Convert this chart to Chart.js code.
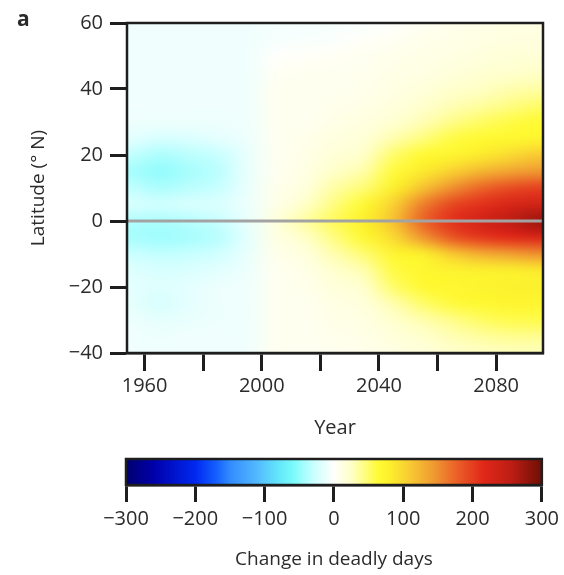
<!DOCTYPE html>
<html>
<head>
<meta charset="utf-8">
<script src="https://cdn.jsdelivr.net/npm/chart.js@4/dist/chart.umd.min.js"></script>
<style>
  html, body { margin: 0; padding: 0; background: #fff; }
  #wrap { position: relative; width: 564px; height: 575px; overflow: hidden; }
  #main { position: absolute; left: 0; top: 0; }
  #cbar { position: absolute; left: 0; top: 445px; }
  #panel { position: absolute; left: 17px; top: 4px; font: bold 21px "Open Sans", sans-serif; color: #2b2b2b; }
</style>
</head>
<body>
<div id="wrap">
  <canvas id="main" width="564" height="445"></canvas>
  <canvas id="cbar" width="564" height="130"></canvas>
  <div id="panel">a</div>
</div>
<script>
// ---------- data ----------
const years = [1955, 1965, 1975, 1985, 1995, 2005, 2015, 2025, 2035, 2045, 2055, 2065, 2075, 2085, 2095];
const lats  = [-40, -35, -30, -25, -20, -15, -10, -5, 0, 5, 10, 15, 20, 25, 30, 35, 40, 45, 50, 55, 60];

// change in deadly days, one array per decade column, latitude -40 ... 60
const col1955 = [-8, -8, -10, -14, -15, -18, -28, -42, -38, -22, -32, -42, -32, -16, -10, -8, -8, -8, -8, -8, -8];
const col1965 = [-8, -10, -14, -22, -18, -22, -32, -45, -40, -25, -40, -50, -40, -22, -10, -8, -8, -8, -8, -8, -8];
const col1975 = [-8, -8, -12, -15, -15, -20, -30, -42, -36, -22, -35, -42, -35, -20, -10, -8, -8, -8, -8, -8, -8];
const col1985 = [-8, -8, -10, -10, -10, -16, -25, -36, -30, -20, -30, -35, -30, -15, -10, -8, -8, -8, -8, -8, -8];
const col1995 = [-8, -8, -8, -8, -8, -10, -12, -15, -12, -10, -12, -12, -12, -10, -8, -8, -8, -8, -8, -8, -8];
const col2005 = [6, 6, 6, 6, 6, 6, 8, 12, 15, 10, 8, 6, 6, 6, 6, 6, 6, 4, 0, -5, -6];
const col2015 = [6, 6, 6, 6, 8, 10, 15, 25, 35, 25, 15, 12, 10, 8, 6, 6, 6, 6, 2, -4, -6];
const col2025 = [6, 8, 10, 12, 16, 22, 32, 45, 55, 45, 35, 25, 18, 14, 10, 8, 6, 6, 4, -2, -5];
const col2035 = [8, 10, 12, 16, 22, 32, 48, 68, 80, 68, 48, 34, 24, 18, 14, 10, 8, 7, 6, 2, -4];
const col2045 = [12, 16, 22, 32, 50, 60, 72, 98, 115, 105, 80, 62, 50, 32, 20, 15, 12, 10, 8, 5, 0];
const col2055 = [16, 22, 32, 50, 66, 70, 80, 145, 175, 160, 115, 85, 66, 45, 30, 22, 16, 12, 10, 8, 5];
const col2065 = [22, 30, 42, 62, 70, 74, 110, 185, 210, 195, 150, 105, 72, 60, 42, 30, 22, 16, 12, 10, 8];
const col2075 = [26, 36, 52, 68, 74, 78, 130, 205, 235, 210, 175, 125, 85, 66, 52, 36, 26, 20, 15, 12, 10];
const col2085 = [28, 40, 58, 72, 78, 80, 140, 215, 255, 228, 192, 138, 98, 70, 60, 44, 32, 22, 18, 14, 12];
const col2095 = [28, 40, 58, 72, 78, 85, 150, 225, 275, 235, 200, 145, 110, 72, 65, 50, 35, 25, 18, 14, 12];
const columns = [col1955, col1965, col1975, col1985, col1995, col2005, col2015, col2025, col2035,
                 col2045, col2055, col2065, col2075, col2085, col2095];

const xTicks = [1960, 1980, 2000, 2020, 2040, 2060, 2080];
const xLabels = [1960, 2000, 2040, 2080];
const yTicks = [-40, -20, 0, 20, 40, 60];
const zeroLineYears = [1954, 2096];
const cbTicks = [-300, -200, -100, 0, 100, 200, 300];

// colormap stops: value -> rgb
const cmapValues = [-300, -260, -200, -170, -150, -115, -80, -60, -30, 0, 25, 65, 80, 100, 140, 175, 215, 255, 300];
const cmapColors = [
  [0, 0, 110], [0, 0, 170], [0, 40, 240], [20, 95, 255], [50, 140, 255], [80, 180, 255],
  [100, 230, 250], [120, 250, 250], [200, 255, 255], [255, 255, 252], [255, 255, 200],
  [255, 250, 50], [252, 240, 45], [250, 215, 50], [240, 160, 50], [235, 100, 40],
  [225, 40, 25], [190, 30, 20], [110, 15, 5]
];

// ---------- helpers ----------
function cmap(v) {
  if (v <= cmapValues[0]) return cmapColors[0];
  const n = cmapValues.length;
  if (v >= cmapValues[n - 1]) return cmapColors[n - 1];
  for (let i = 0; i < n - 1; i++) {
    const a = cmapValues[i], b = cmapValues[i + 1];
    if (v >= a && v <= b) {
      const t = (v - a) / (b - a);
      const c0 = cmapColors[i], c1 = cmapColors[i + 1];
      return [0, 1, 2].map(k => Math.round(c0[k] + (c1[k] - c0[k]) * t));
    }
  }
  return cmapColors[n - 1];
}
const fmt = v => (v < 0 ? '\u2212' + Math.abs(v) : String(v));
const FONT = '"Open Sans", "Noto Sans", sans-serif';
const TXT = '#2b2b2b';
const AX = '#1e1e1e';

// low-resolution image of the grid (one pixel per cell)
const nx = years.length, ny = lats.length;
const off = document.createElement('canvas');
off.width = nx; off.height = ny;
(function () {
  const octx = off.getContext('2d');
  const img = octx.createImageData(nx, ny);
  for (let i = 0; i < nx; i++) {
    for (let j = 0; j < ny; j++) {
      const c = cmap(columns[i][j]);
      const row = ny - 1 - j;
      const p = (row * nx + i) * 4;
      img.data[p] = c[0]; img.data[p + 1] = c[1]; img.data[p + 2] = c[2]; img.data[p + 3] = 255;
    }
  }
  octx.putImageData(img, 0, 0);
})();

const heatmapPlugin = {
  id: 'heatmap',
  beforeDatasetsDraw(chart) {
    const { ctx, chartArea: ca } = chart;
    const xs = chart.scales.x, ys = chart.scales.y;
    const dY = years[1] - years[0], dL = lats[1] - lats[0];
    const x0 = xs.getPixelForValue(years[0] - dY / 2);
    const x1 = xs.getPixelForValue(years[nx - 1] + dY / 2);
    const yT = ys.getPixelForValue(lats[ny - 1] + dL / 2);
    const yB = ys.getPixelForValue(lats[0] - dL / 2);
    ctx.save();
    ctx.beginPath();
    ctx.rect(ca.left, ca.top, ca.right - ca.left, ca.bottom - ca.top);
    ctx.clip();
    ctx.imageSmoothingEnabled = true;
    ctx.imageSmoothingQuality = 'high';
    ctx.drawImage(off, x0, yT, x1 - x0, yB - yT);
    ctx.restore();
  }
};

const framePlugin = {
  id: 'frame',
  afterDatasetsDraw(chart) {
    const { ctx, chartArea: ca } = chart;
    ctx.save();
    ctx.strokeStyle = AX;
    ctx.lineWidth = 2.5;
    ctx.strokeRect(ca.left, ca.top, ca.right - ca.left, ca.bottom - ca.top);
    ctx.restore();
  }
};

// ---------- main chart ----------
new Chart(document.getElementById('main'), {
  type: 'scatter',
  data: {
    datasets: [{
      type: 'line',
      data: zeroLineYears.map(x => ({ x: x, y: 0 })),
      borderColor: '#a3a3a3',
      borderWidth: 3,
      pointRadius: 0,
      fill: false
    }]
  },
  options: {
    responsive: false,
    animation: false,
    devicePixelRatio: 1,
    layout: { padding: { top: 23, right: 21, left: 0, bottom: 0 } },
    plugins: { legend: { display: false }, tooltip: { enabled: false } },
    scales: {
      x: {
        type: 'linear', min: 1954, max: 2096, position: 'bottom',
        afterBuildTicks: s => { s.ticks = xTicks.map(v => ({ value: v })); },
        afterFit: s => { s.height = 92; },
        ticks: {
          autoSkip: false, maxRotation: 0, padding: 3, color: TXT,
          font: { family: FONT, size: 20 },
          callback: v => (xLabels.includes(v) ? String(v) : '')
        },
        grid: { display: true, drawOnChartArea: false, drawTicks: true, tickLength: 18, tickWidth: 3, tickColor: AX },
        border: { display: true, color: AX, width: 2.5 },
        title: { display: true, text: 'Year', color: TXT, font: { family: FONT, size: 20 }, padding: { top: 0, bottom: 5 } }
      },
      y: {
        type: 'linear', min: -40, max: 60, position: 'left',
        afterBuildTicks: s => { s.ticks = yTicks.map(v => ({ value: v })); },
        afterFit: s => { s.width = 127; },
        ticks: { padding: 7, color: TXT, font: { family: FONT, size: 20 }, callback: v => fmt(v) },
        grid: { display: true, drawOnChartArea: false, drawTicks: true, tickLength: 17, tickWidth: 3, tickColor: AX },
        border: { display: true, color: AX, width: 2.5 },
        title: { display: true, text: 'Latitude (\u00b0 N)', color: TXT, font: { family: FONT, size: 19 }, padding: { top: 27, bottom: 0 } }
      }
    }
  },
  plugins: [heatmapPlugin, framePlugin]
});

// ---------- colour bar ----------
const colorbarPlugin = {
  id: 'colorbar',
  beforeDatasetsDraw(chart) {
    const { ctx, chartArea: ca } = chart;
    const xs = chart.scales.x;
    const gx0 = xs.getPixelForValue(cmapValues[0]);
    const gx1 = xs.getPixelForValue(cmapValues[cmapValues.length - 1]);
    const g = ctx.createLinearGradient(gx0, 0, gx1, 0);
    cmapValues.forEach((v, i) => {
      const c = cmapColors[i];
      g.addColorStop((xs.getPixelForValue(v) - gx0) / (gx1 - gx0), `rgb(${c[0]},${c[1]},${c[2]})`);
    });
    ctx.save();
    ctx.fillStyle = g;
    ctx.fillRect(ca.left, ca.top, ca.right - ca.left, ca.bottom - ca.top);
    ctx.strokeStyle = AX;
    ctx.lineWidth = 2.5;
    ctx.strokeRect(ca.left, ca.top, ca.right - ca.left, ca.bottom - ca.top);
    ctx.restore();
  }
};

new Chart(document.getElementById('cbar'), {
  type: 'scatter',
  data: { datasets: [] },
  options: {
    responsive: false,
    animation: false,
    devicePixelRatio: 1,
    layout: { padding: { top: 14, right: 21, left: 126, bottom: 0 } },
    plugins: { legend: { display: false }, tooltip: { enabled: false } },
    scales: {
      x: {
        type: 'linear', min: -300, max: 300, position: 'bottom',
        afterBuildTicks: s => { s.ticks = cbTicks.map(v => ({ value: v })); },
        afterFit: s => { s.height = 90; },
        ticks: { autoSkip: false, maxRotation: 0, padding: 5, color: TXT, font: { family: FONT, size: 20 }, callback: v => fmt(v) },
        grid: { display: true, drawOnChartArea: false, drawTicks: true, tickLength: 17, tickWidth: 3, tickColor: AX },
        border: { display: true, color: AX, width: 2.5 },
        title: { display: true, text: 'Change in deadly days', color: TXT, font: { family: FONT, size: 19 }, padding: { top: 0, bottom: 4 } }
      },
      y: { display: false, min: 0, max: 1 }
    }
  },
  plugins: [colorbarPlugin]
});
</script>
</body>
</html>
